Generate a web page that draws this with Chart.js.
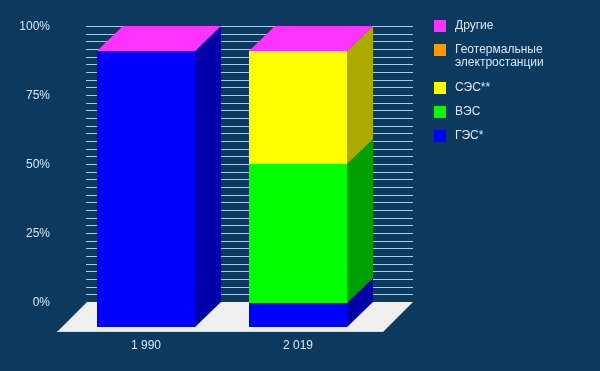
<!DOCTYPE html>
<html><head><meta charset="utf-8">
<script src="https://cdn.jsdelivr.net/npm/chart.js@4"></script>
<style>html,body{margin:0;padding:0;background:#0c3a5f;}canvas{display:block}</style>
</head><body><canvas id="c" width="600" height="371"></canvas>
<script>
// ---- data ----
const categories = ['1 990', '2 019'];
const seriesNames = ['ГЭС*', 'ВЭС', 'СЭС**', 'Геотермальные\nэлектростанции', 'Другие'];
const hydro = [100, 8.7];
const wind = [0, 50.4];
const solar = [0, 40.9];
const geothermal = [0, 0];
const other = [0, 0];
const yTickValues = [0, 25, 50, 75, 100];
const yTickLabels = ['0%', '25%', '50%', '75%', '100%'];
const gridLineCount = 36;

// ---- style ----
const frontColors = ['#0000ff', '#00ff00', '#ffff00', '#ff9900', '#ff33ff'];
const sideColors  = ['#0000a8', '#00a000', '#aaaa00', '#aa6600', '#b020b0'];
const BG = '#0c3a5f';
const TEXT = '#d6e6f4';
const GRID = '#a2cdee';
const DX = 26, DY = 25;
const FONT = '12px "Liberation Sans", Arial, sans-serif';

const seriesValues = [hydro, wind, solar, geothermal, other];

const threeD = {
  id: 'threeD',
  beforeDraw(chart) {
    const ctx = chart.ctx;
    ctx.save();
    ctx.fillStyle = BG;
    ctx.fillRect(0, 0, chart.width, chart.height);
    ctx.restore();
  },
  beforeDatasetsDraw(chart) {
    const ctx = chart.ctx, ys = chart.scales.y, a = chart.chartArea;
    ctx.save();
    // back-wall grid lines
    ctx.strokeStyle = GRID; ctx.lineWidth = 1;
    for (let i = 1; i <= gridLineCount; i++) {
      const py = Math.round(ys.getPixelForValue(100 * i / gridLineCount) - DY) + 0.5;
      ctx.beginPath(); ctx.moveTo(a.left + 16, py); ctx.lineTo(a.right + 39, py); ctx.stroke();
    }
    // y labels
    ctx.fillStyle = TEXT; ctx.font = FONT; ctx.textAlign = 'right'; ctx.textBaseline = 'middle';
    yTickValues.forEach((v, i) => {
      ctx.fillText(yTickLabels[i], a.left - 20, ys.getPixelForValue(v) - DY + 1);
    });
    // floor
    const base = ys.getPixelForValue(0);
    const backY = base - DY, frontY = base + 5;
    ctx.fillStyle = '#efefef';
    ctx.beginPath();
    ctx.moveTo(a.left + 17, backY);
    ctx.lineTo(a.right + 39, backY);
    ctx.lineTo(a.right + 9, frontY);
    ctx.lineTo(a.left - 13, frontY);
    ctx.closePath(); ctx.fill();
    ctx.strokeStyle = '#cfdbe8'; ctx.lineWidth = 1;
    ctx.beginPath(); ctx.moveTo(a.left - 13, frontY - 0.5); ctx.lineTo(a.right + 9, frontY - 0.5); ctx.stroke();

    // side and top faces
    const n = chart.data.datasets.length;
    categories.forEach((c, j) => {
      for (let d = 0; d < n; d++) {
        const el = chart.getDatasetMeta(d).data[j];
        const top = el.y, bottom = el.base, right = el.x + el.width / 2;
        if (Math.abs(bottom - top) < 0.01) continue;
        ctx.fillStyle = sideColors[d];
        ctx.beginPath();
        ctx.moveTo(right, top);
        ctx.lineTo(right + DX, top - DY);
        ctx.lineTo(right + DX, bottom - DY);
        ctx.lineTo(right, bottom);
        ctx.closePath(); ctx.fill();
      }
      const topEl = chart.getDatasetMeta(n - 1).data[j];
      const l = topEl.x - topEl.width / 2, r = topEl.x + topEl.width / 2, t = topEl.y;
      ctx.fillStyle = frontColors[n - 1];
      ctx.beginPath();
      ctx.moveTo(l, t); ctx.lineTo(l + DX, t - DY); ctx.lineTo(r + DX, t - DY); ctx.lineTo(r, t);
      ctx.closePath(); ctx.fill();
      ctx.strokeStyle = '#9a9a9a'; ctx.lineWidth = 1;
      ctx.beginPath(); ctx.moveTo(l, Math.round(t) + 0.5); ctx.lineTo(r, Math.round(t) + 0.5); ctx.stroke();
    });
    ctx.restore();
  },
  afterDraw(chart) {
    const ctx = chart.ctx, xs = chart.scales.x, ys = chart.scales.y;
    ctx.save();
    ctx.fillStyle = TEXT; ctx.font = FONT; ctx.textAlign = 'center'; ctx.textBaseline = 'middle';
    categories.forEach((c, j) => {
      ctx.fillText(c, xs.getPixelForValue(j), ys.getPixelForValue(0) + 19);
    });
    // legend (reverse order)
    let y = 26;
    ctx.textAlign = 'left';
    for (let d = seriesNames.length - 1; d >= 0; d--) {
      const lines = seriesNames[d].split('\n');
      ctx.fillStyle = frontColors[d];
      ctx.fillRect(434, Math.round(y - 6), 12, 12);
      ctx.fillStyle = TEXT;
      lines.forEach((ln, k) => ctx.fillText(ln, 455, y + k * 13));
      y += 24 + (lines.length - 1) * 13.7;
    }
    ctx.restore();
  }
};

new Chart(document.getElementById('c'), {
  type: 'bar',
  data: {
    labels: categories,
    datasets: seriesValues.map((vals, i) => ({
      label: seriesNames[i],
      data: vals,
      backgroundColor: frontColors[i],
      borderWidth: 0,
      barPercentage: 0.645,
      categoryPercentage: 1
    }))
  },
  options: {
    responsive: false,
    animation: false,
    devicePixelRatio: 1,
    layout: { padding: { left: 70, right: 226, top: 51, bottom: 44 } },
    scales: {
      x: { stacked: true, display: false },
      y: { stacked: true, display: false, min: 0, max: 100 }
    },
    plugins: { legend: { display: false }, tooltip: { enabled: false } }
  },
  plugins: [threeD]
});
</script>
</body></html>
